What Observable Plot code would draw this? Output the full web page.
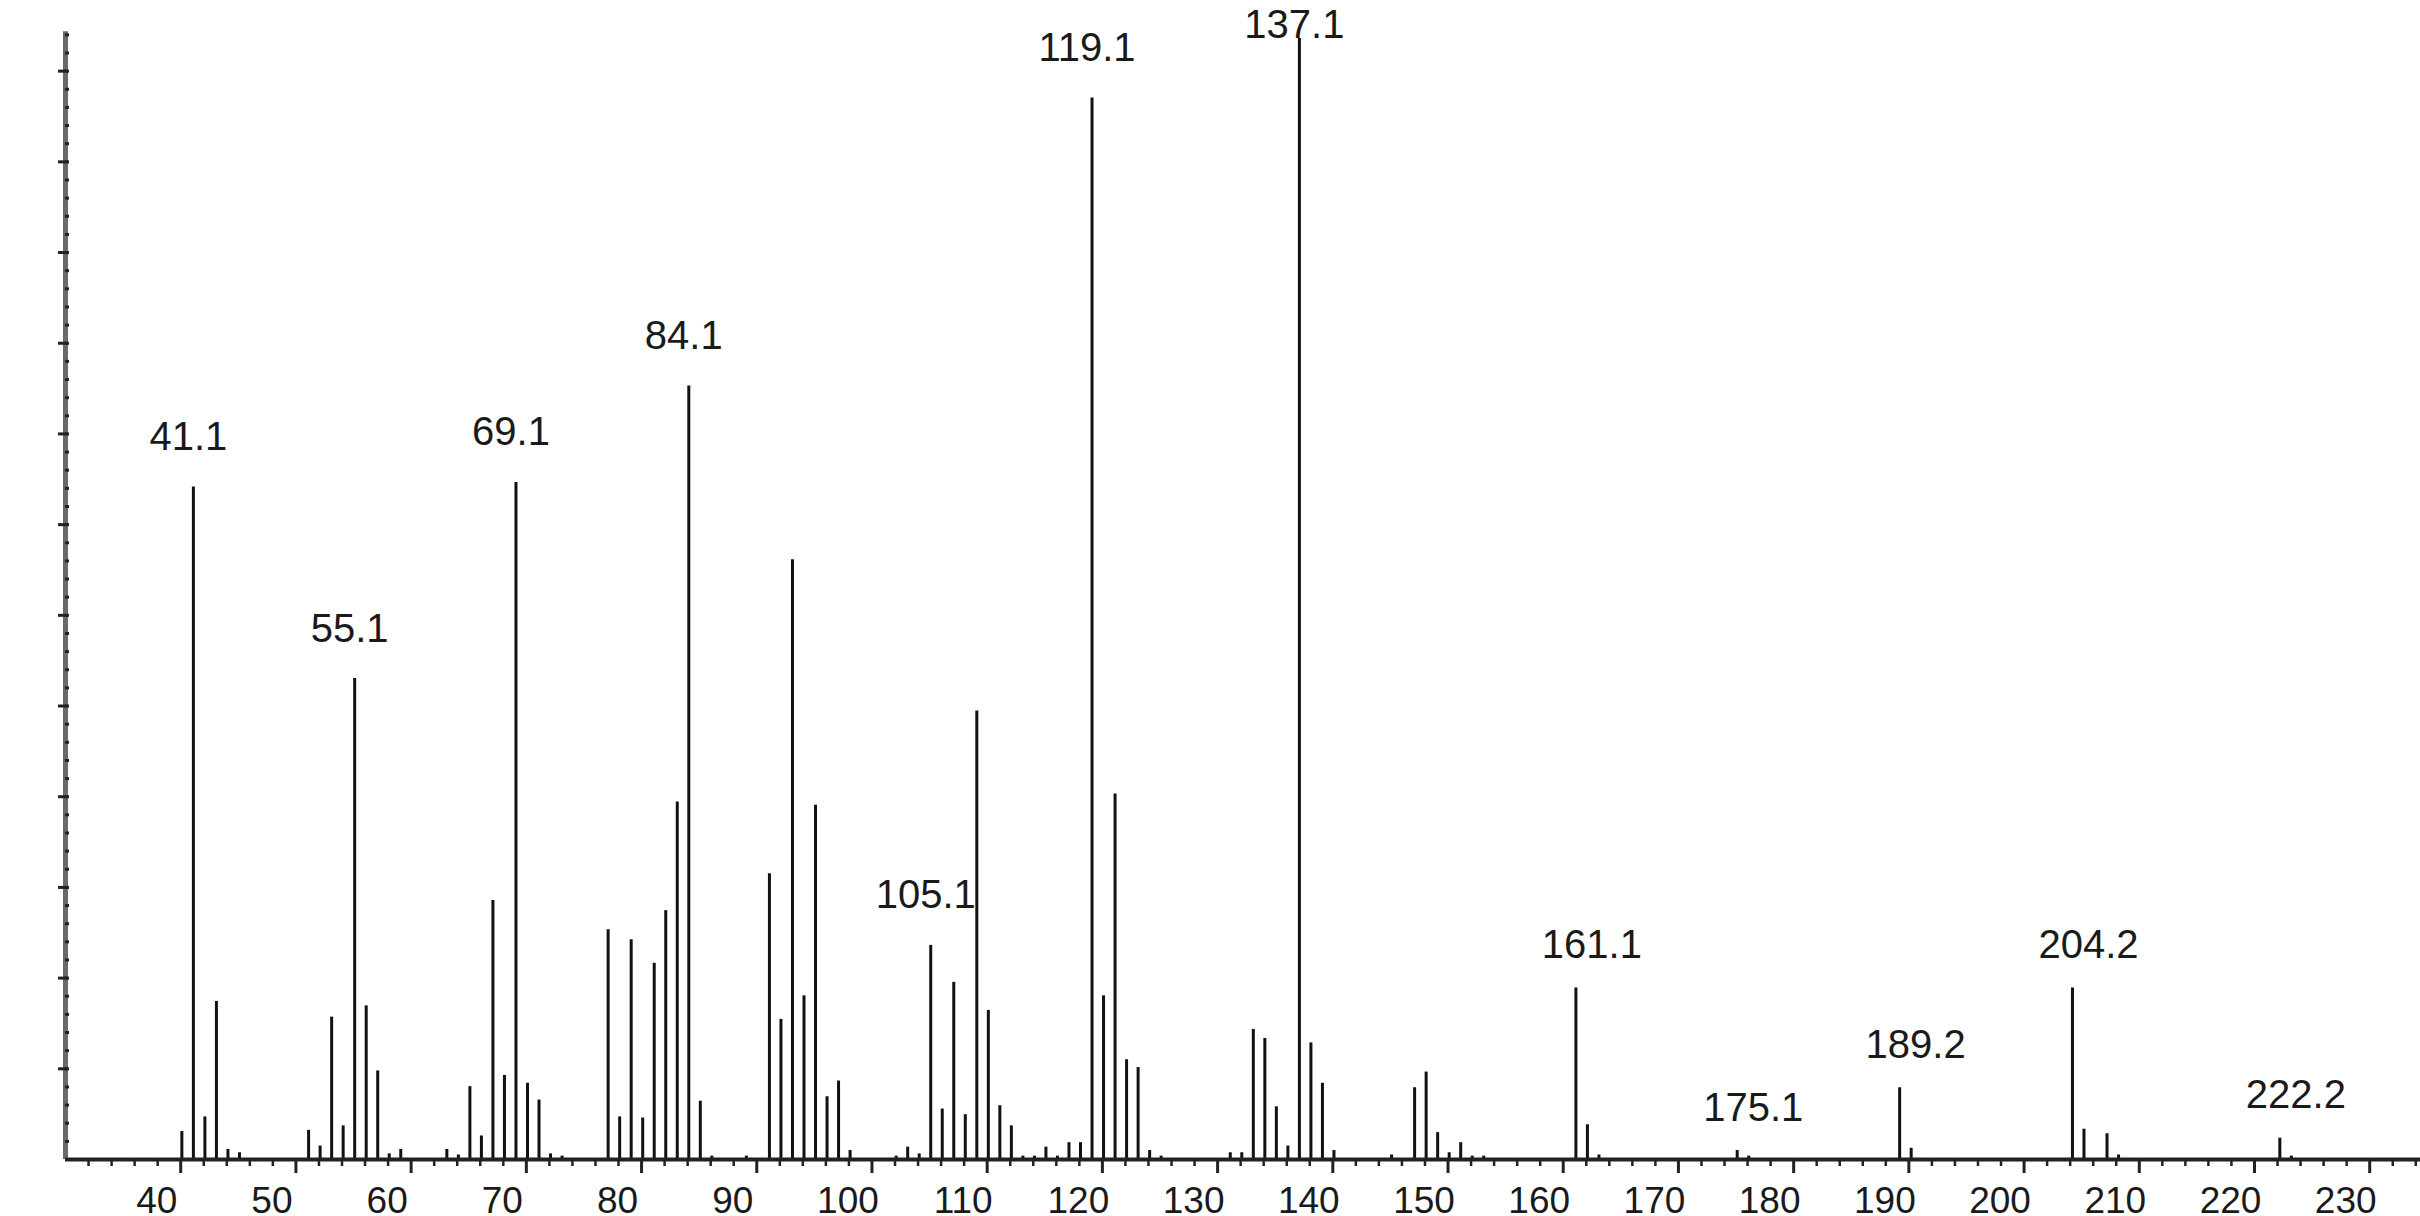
<!DOCTYPE html>
<html>
<head>
<meta charset="utf-8">
<script src="https://cdn.jsdelivr.net/npm/d3@7"></script>
<script src="https://cdn.jsdelivr.net/npm/@observablehq/plot@0.6"></script>
<style>
  html, body { margin: 0; padding: 0; background: #fff; }
  #chart svg { display: block; }
</style>
</head>
<body>
<div id="chart"></div>
<script>
// m/z of each centroid bar
const mz = [
  40.1, 41.1, 42.1, 43.1, 44.1, 45.1,
  51.1, 52.1, 53.1, 54.1, 55.1, 56.1, 57.1, 58.1, 59.1,
  63.1, 64.1, 65.1, 66.1, 67.1, 68.1, 69.1, 70.1, 71.1, 72.1, 73.1,
  77.1, 78.1, 79.1, 80.1, 81.1, 82.1, 83.1, 84.1, 85.1, 86.1, 89.1,
  91.1, 92.1, 93.1, 94.1, 95.1, 96.1, 97.1, 98.1,
  102.1, 103.1, 104.1, 105.1, 106.1, 107.1, 108.1, 109.1, 110.1, 111.1, 112.1, 113.1, 114.1,
  115.1, 116.1, 117.1, 118.1, 119.1, 120.1, 121.1, 122.1, 123.1, 124.1, 125.1,
  131.1, 132.1, 133.1, 134.1, 135.1, 136.1, 137.1, 138.1, 139.1, 140.1,
  145.1, 147.1, 148.1, 149.1, 150.1, 151.1, 152.1, 153.1,
  161.1, 162.1, 163.1, 175.1, 176.1,
  189.2, 190.2, 204.2, 205.2, 207.2, 208.2, 222.2, 223.2
];
// relative intensity (% of base peak 137.1)
const intensity = [
  2.5, 60.0, 3.8, 14.1, 0.9, 0.6,
  2.6, 1.2, 12.7, 3.0, 42.9, 13.7, 7.9, 0.5, 0.9,
  0.9, 0.4, 6.5, 2.1, 23.1, 7.5, 60.4, 6.8, 5.3, 0.5, 0.3,
  20.5, 3.8, 19.6, 3.7, 17.5, 22.2, 31.9, 69.0, 5.2, 0.3, 0.3,
  25.5, 12.5, 53.5, 14.6, 31.6, 5.6, 7.0, 0.8,
  0.3, 1.1, 0.5, 19.1, 4.5, 15.8, 4.0, 40.0, 13.3, 4.8, 3.0, 0.3, 0.3,
  1.1, 0.3, 1.5, 1.5, 94.7, 14.6, 32.6, 8.9, 8.2, 0.8, 0.3,
  0.6, 0.6, 11.6, 10.8, 4.7, 1.2, 100, 10.4, 6.8, 0.8,
  0.4, 6.4, 7.8, 2.4, 0.6, 1.5, 0.3, 0.3,
  15.3, 3.1, 0.4, 0.8, 0.3,
  6.4, 1.0, 15.3, 2.7, 2.3, 0.4, 1.9, 0.3
];
// annotated peaks
const labelMz = [41.1, 55.1, 69.1, 84.1, 105.1, 119.1, 137.1, 161.1, 175.1, 189.2, 204.2, 222.2];
const labelText = ["41.1", "55.1", "69.1", "84.1", "105.1", "119.1", "137.1", "161.1", "175.1", "189.2", "204.2", "222.2"];
// x axis tick labels
const xMajorTicks = [40, 50, 60, 70, 80, 90, 100, 110, 120, 130, 140, 150, 160, 170, 180, 190, 200, 210, 220, 230];
const xTickLabels = ["40", "50", "60", "70", "80", "90", "100", "110", "120", "130", "140", "150", "160", "170", "180", "190", "200", "210", "220", "230"];

const xMinorTicks = d3.range(32, 235, 2).filter(d => d % 10 !== 0);
const yStep = 100 / 12.36;              // unlabeled abundance ticks
const yMajorTicks = d3.range(0, 101, yStep).slice(1);
const yMinorTicks = d3.range(0, 101, yStep / 5).slice(1);

const peaks = mz.map((m, k) => ({mz: m, i: intensity[k]}));
const labels = labelMz.map((m, k) => ({mz: m, text: labelText[k], i: intensity[mz.indexOf(m)]}));
const labelsLeft = labels.filter(d => d.mz < 150);
const labelsRight = labels.filter(d => d.mz >= 150);

const W = 2420, H = 1216, mL = 65, mB = 57, mT = 38;
const pxPerPct = (H - mB - mT) / 100;
const maxLabelY = (H - mB - 37) / pxPerPct;

const chart = Plot.plot({
  width: W,
  height: H,
  marginLeft: mL,
  marginRight: 0,
  marginTop: mT,
  marginBottom: mB,
  style: {fontFamily: "'Liberation Sans', Arial, sans-serif", background: "#fff", overflow: "visible", color: "#1a1a1a"},
  x: {domain: [30, 30 + (W - mL) / 11.521]},
  y: {domain: [0, 100]},
  marks: [
    Plot.ruleX(peaks, {x: "mz", y1: 0, y2: "i", stroke: "#111", strokeWidth: 3}),
    Plot.ruleX([30], {y1: 0, y2: 100.6, stroke: "#6a6a6a", strokeWidth: 5}),
    Plot.ruleY([0], {stroke: "#222", strokeWidth: 4}),
    Plot.axisY({ticks: yMajorTicks, tickSize: 10, dx: 3, tickFormat: () => "", label: null, stroke: "#222", strokeWidth: 3}),
    Plot.axisY({ticks: yMinorTicks, tickSize: 4, dx: 4, tickFormat: () => "", label: null, stroke: "#222", strokeWidth: 3}),
    // major tick marks
    Plot.axisX({ticks: xMajorTicks, tickSize: 14, tickFormat: () => "", label: null, stroke: "#222", strokeWidth: 3}),
    // tick labels, set slightly left of their ticks
    Plot.axisX({ticks: xMajorTicks, tickSize: 0, tickPadding: 27, tickFormat: d => xTickLabels[xMajorTicks.indexOf(d)],
      textAnchor: "middle", dx: -24, fontSize: 37, label: null, stroke: "none"}),
    // minor tick marks
    Plot.axisX({ticks: xMinorTicks, tickSize: 7, tickFormat: () => "", label: null, stroke: "#222", strokeWidth: 2.5}),
    Plot.text(labelsLeft, {x: "mz", y: d => Math.min(d.i + 37 / pxPerPct, maxLabelY), text: "text", dx: -5,
      lineAnchor: "bottom", fontSize: 40, fill: "#1a1a1a"}),
    Plot.text(labelsRight, {x: "mz", y: d => Math.min(d.i + 30 / pxPerPct, maxLabelY), text: "text", dx: 16,
      lineAnchor: "bottom", fontSize: 40, fill: "#1a1a1a"})
  ]
});
document.getElementById("chart").appendChild(chart);
</script>
</body>
</html>
